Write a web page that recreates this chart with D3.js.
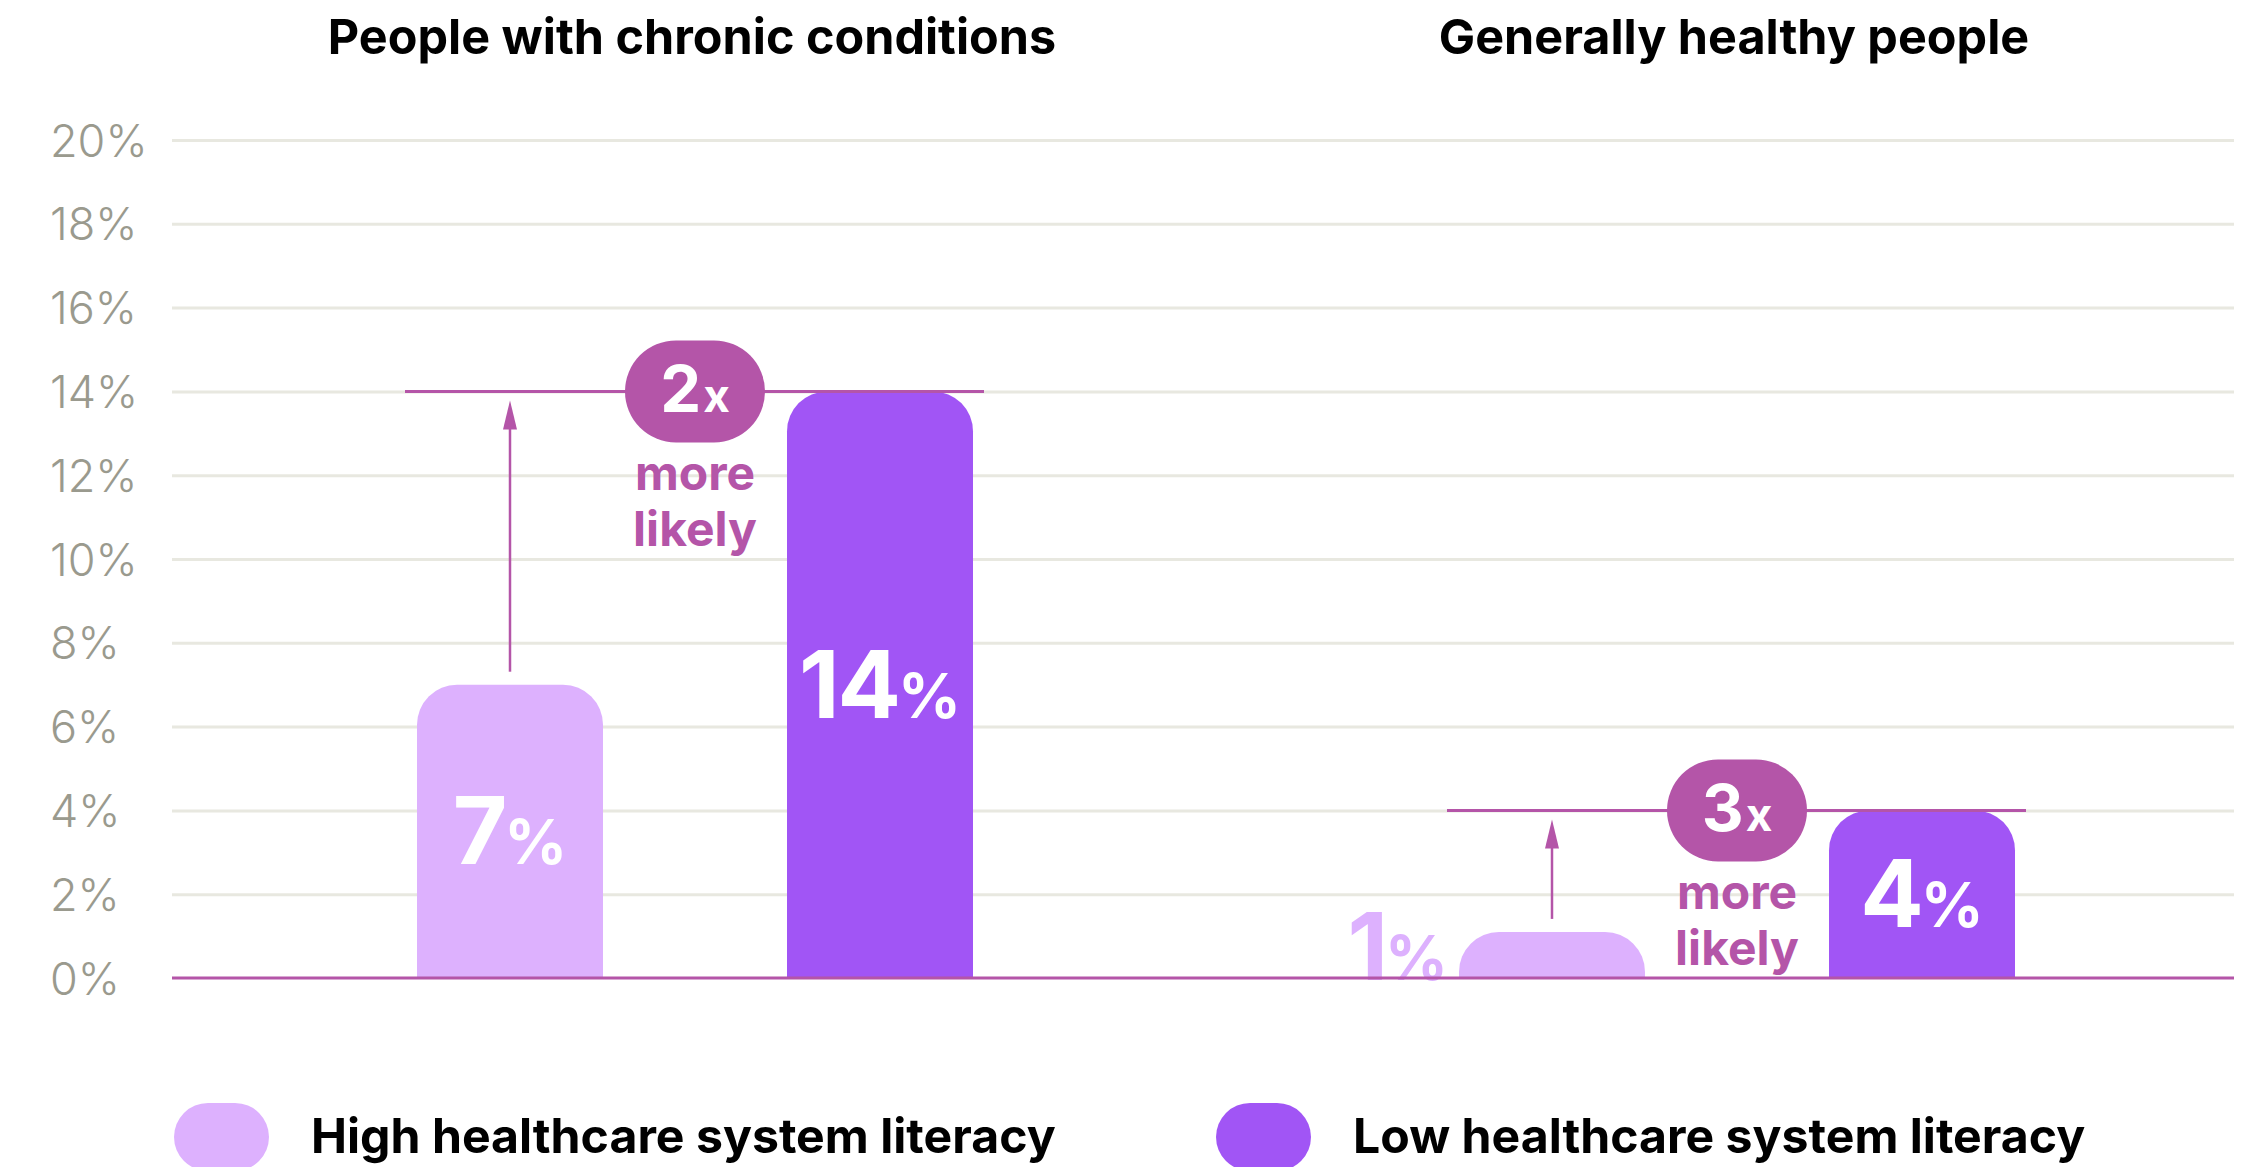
<!DOCTYPE html>
<html>
<head>
<meta charset="utf-8">
<script src="https://cdn.jsdelivr.net/npm/d3@7"></script>
<style>
  html, body { margin: 0; padding: 0; background: #ffffff; }
  svg { display: block; }
</style>
</head>
<body>
<svg id="chart" width="2245" height="1167"></svg>
<script>
// ---------- data ----------
const groups = ["People with chronic conditions", "Generally healthy people"];
const series = ["High healthcare system literacy", "Low healthcare system literacy"];
const highValues = [7, 1.1];
const lowValues = [14, 4];
const highLabels = ["7", "1"];
const lowLabels = ["14", "4"];
const multipliers = ["2", "3"];
const yTicks = [0, 2, 4, 6, 8, 10, 12, 14, 16, 18, 20];

// ---------- style ----------
const W = 2245, H = 1167;
const plotLeft = 172, plotRight = 2234;
const colors = { high: "#DDB1FE", low: "#A155F5", accent: "#B455A8", tick: "#9A9A8E", grid: "#E8E8E0" };
const fontFamily = "Inter, 'Noto Sans', 'DejaVu Sans', sans-serif";
const barWidth = 186, radius = 40;

const svg = d3.select("#chart");

const y = d3.scaleLinear().domain([0, 20]).range([978, 140]);
const xGroup = d3.scalePoint().domain(groups).range([695, 1737]);
const xSeries = d3.scalePoint().domain(series).range([-185, 185]);

// ---------- axis + grid ----------
const axisG = svg.append("g")
  .attr("transform", `translate(${plotLeft},0)`)
  .call(d3.axisLeft(y).tickValues(yTicks).tickSize(-(plotRight - plotLeft)).tickFormat(d => d + "%"));
axisG.select(".domain").remove();
axisG.selectAll(".tick line").attr("stroke", colors.grid).attr("stroke-width", 3)
  .attr("opacity", d => d === 0 ? 0 : 1);
axisG.selectAll(".tick text")
  .attr("x", 50 - plotLeft)
  .attr("dy", null)
  .attr("y", 16)
  .attr("text-anchor", "start")
  .attr("fill", colors.tick)
  .attr("font-family", fontFamily)
  .attr("font-weight", 300)
  .attr("font-size", 45);

// ---------- titles ----------
svg.selectAll("text.title").data(groups).join("text")
  .attr("class", "title")
  .attr("x", d => xGroup(d) - 3)
  .attr("y", 54)
  .attr("text-anchor", "middle")
  .attr("font-family", fontFamily)
  .attr("font-weight", 700)
  .attr("font-size", 48.5)
  .attr("fill", "#000")
  .text(d => d);

// ---------- bars ----------
const rows = [];
groups.forEach((g, i) => {
  rows.push({ group: g, s: series[0], value: highValues[i], label: highLabels[i], color: colors.high, idx: i });
  rows.push({ group: g, s: series[1], value: lowValues[i], label: lowLabels[i], color: colors.low, idx: i });
});

function topRoundedBar(x0, x1, yTop, yBottom, r) {
  const h = yBottom - yTop;
  const rr = Math.min(r, h, (x1 - x0) / 2);
  const p = d3.path();
  p.moveTo(x0, yBottom);
  p.lineTo(x0, yTop + rr);
  p.arcTo(x0, yTop, x0 + rr, yTop, rr);
  p.lineTo(x1 - rr, yTop);
  p.arcTo(x1, yTop, x1, yTop + rr, rr);
  p.lineTo(x1, yBottom);
  p.closePath();
  return p.toString();
}

const barX = d => xGroup(d.group) + xSeries(d.s) - barWidth / 2;

svg.selectAll("path.bar").data(rows).join("path")
  .attr("class", "bar")
  .attr("fill", d => d.color)
  .attr("d", d => topRoundedBar(barX(d), barX(d) + barWidth, y(d.value), y(0), radius));

// value labels
svg.selectAll("text.value").data(rows).join("text")
  .attr("class", "value")
  .attr("font-family", fontFamily)
  .attr("font-weight", 700)
  .each(function (d) {
    const t = d3.select(this);
    const inside = (y(0) - y(d.value)) > 100;
    if (inside) {
      t.attr("x", barX(d) + barWidth / 2)
        .attr("y", (y(d.value) + y(0)) / 2 + 33)
        .attr("text-anchor", "middle")
        .attr("fill", "#ffffff");
    } else {
      t.attr("x", barX(d) - 11)
        .attr("y", y(0) + 2)
        .attr("text-anchor", "end")
        .attr("fill", d.color);
    }
    t.append("tspan").attr("font-size", 94).attr("letter-spacing", -2).text(d.label);
    t.append("tspan").attr("font-size", 62).attr("dx", -1).text("%");
  });

// ---------- comparison annotations ----------
const ann = groups.map((g, i) => ({ group: g, high: highValues[i], low: lowValues[i], mult: multipliers[i] }));

const annG = svg.selectAll("g.ann").data(ann).join("g").attr("class", "ann");

// reference line
annG.append("line")
  .attr("x1", d => xGroup(d.group) + xSeries(series[0]) - barWidth / 2 - 12)
  .attr("x2", d => xGroup(d.group) + xSeries(series[1]) + barWidth / 2 + 11)
  .attr("y1", d => y(d.low))
  .attr("y2", d => y(d.low))
  .attr("stroke", colors.accent)
  .attr("stroke-width", 3);

// arrow shaft
annG.append("line")
  .attr("x1", d => xGroup(d.group) + xSeries(series[0]))
  .attr("x2", d => xGroup(d.group) + xSeries(series[0]))
  .attr("y1", d => y(d.high) - 13)
  .attr("y2", d => y(d.low) + 30)
  .attr("stroke", colors.accent)
  .attr("stroke-width", 2.5);

// arrow head
annG.append("path")
  .attr("fill", colors.accent)
  .attr("d", d => {
    const cx = xGroup(d.group) + xSeries(series[0]);
    const tip = y(d.low) + 9;
    return `M${cx},${tip} L${cx + 7},${tip + 29} L${cx - 7},${tip + 29} Z`;
  });

// badge
annG.append("rect")
  .attr("x", d => xGroup(d.group) - 70)
  .attr("y", d => y(d.low) - 51)
  .attr("width", 140)
  .attr("height", 102)
  .attr("rx", 51)
  .attr("fill", colors.accent);

const badgeText = annG.append("text")
  .attr("x", d => xGroup(d.group))
  .attr("y", d => y(d.low) + 21)
  .attr("text-anchor", "middle")
  .attr("font-family", fontFamily)
  .attr("font-weight", 700)
  .attr("fill", "#ffffff");
badgeText.append("tspan").attr("font-size", 65).text(d => d.mult);
badgeText.append("tspan").attr("font-size", 46).attr("dx", 2).text("x");

annG.append("text")
  .attr("x", d => xGroup(d.group))
  .attr("y", d => y(d.low) + 99)
  .attr("text-anchor", "middle")
  .attr("font-family", fontFamily)
  .attr("font-weight", 700)
  .attr("font-size", 48)
  .attr("fill", colors.accent)
  .text("more");

annG.append("text")
  .attr("x", d => xGroup(d.group))
  .attr("y", d => y(d.low) + 155)
  .attr("text-anchor", "middle")
  .attr("font-family", fontFamily)
  .attr("font-weight", 700)
  .attr("font-size", 48)
  .attr("fill", colors.accent)
  .text("likely");

// ---------- zero axis line ----------
svg.append("line")
  .attr("x1", plotLeft).attr("x2", plotRight)
  .attr("y1", y(0)).attr("y2", y(0))
  .attr("stroke", colors.accent)
  .attr("stroke-width", 3);

// ---------- legend ----------
const legendColors = [colors.high, colors.low];
const legG = svg.selectAll("g.legend").data(series).join("g")
  .attr("class", "legend")
  .attr("transform", (d, i) => `translate(${xGroup(groups[i]) - 521},1136)`);
legG.append("rect")
  .attr("x", 0).attr("y", -33)
  .attr("width", 95).attr("height", 68).attr("rx", 34)
  .attr("fill", (d, i) => legendColors[i]);
legG.append("text")
  .attr("x", 137)
  .attr("y", 17)
  .attr("font-family", fontFamily)
  .attr("font-weight", 700)
  .attr("font-size", 48.2)
  .attr("fill", "#000")
  .text(d => d);
</script>
</body>
</html>
